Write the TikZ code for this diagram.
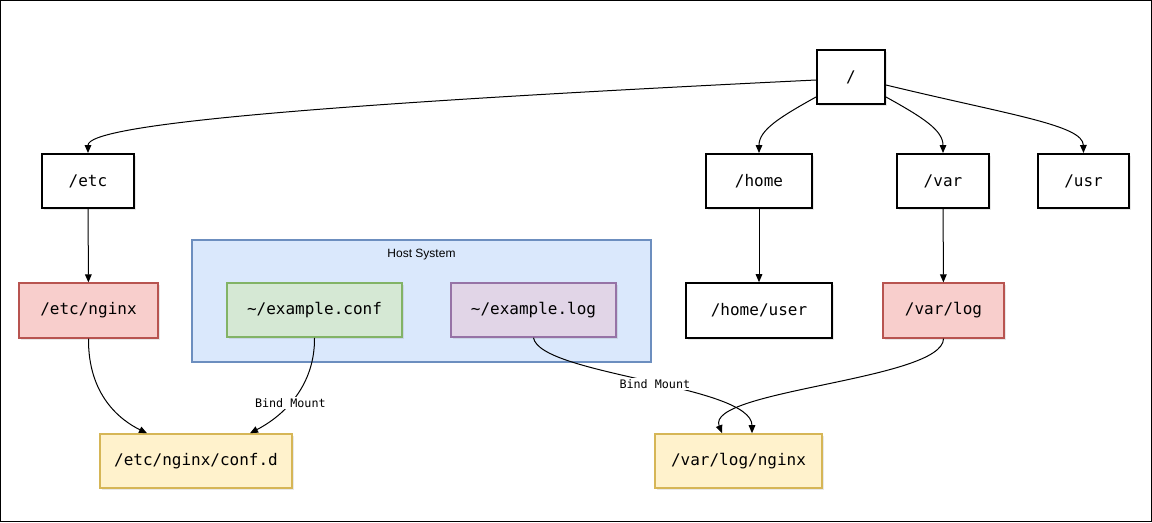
\documentclass[tikz,border=0pt]{standalone}
\usepackage{fontspec}
\setmonofont{DejaVu Sans Mono}
\setsansfont{Liberation Sans}
\usepackage{xcolor}
\usepackage{tikz}
\usetikzlibrary{arrows.meta,positioning,shadows}
\definecolor{redfill}{HTML}{F8CECC}
\definecolor{redline}{HTML}{B85450}
\definecolor{greenfill}{HTML}{D5E8D4}
\definecolor{greenline}{HTML}{82B366}
\definecolor{purplefill}{HTML}{E1D5E7}
\definecolor{purpleline}{HTML}{9673A6}
\definecolor{yellowfill}{HTML}{FFF2CC}
\definecolor{yellowline}{HTML}{D6B656}
\definecolor{bluefill}{HTML}{DAE8FC}
\definecolor{blueline}{HTML}{6C8EBF}
\tikzset{
  dirbox/.style={draw=black,fill=white,line width=1.5pt,minimum height=40.5pt,
    font=\ttfamily\fontsize{12}{14}\selectfont,
    drop shadow={shadow xshift=1.5pt,shadow yshift=-1.5pt,opacity=0.18}},
  mountbox/.style={dirbox,draw=redline,fill=redfill,line width=1.2pt},
  confbox/.style={dirbox,draw=greenline,fill=greenfill,line width=1.2pt},
  logbox/.style={dirbox,draw=purpleline,fill=purplefill,line width=1.2pt},
  targetbox/.style={dirbox,draw=yellowline,fill=yellowfill,line width=1.2pt},
  link/.style={line width=0.75pt,-{Triangle[length=6pt,width=5pt]}},
  bindlabel/.style={fill=white,inner sep=1pt,font=\ttfamily\fontsize{8.8}{10}\selectfont}
}
\begin{document}
\begin{tikzpicture}[x=0.75pt,y=-0.75pt]
\useasboundingbox (0,0) rectangle (1152,522);
\draw[line width=0.75pt] (0.5,0.5) rectangle (1151.5,521.5);
%%the host system group
\node[draw=blueline,fill=bluefill,line width=1.2pt,minimum width=344pt,minimum height=91.5pt,
  inner sep=0pt] (host) at (421.5,301) {};
\node[font=\sffamily\fontsize{9}{11}\selectfont] (hostlabel) at (421.5,255) {Host System};
%%the tree
\node[dirbox,minimum width=51pt] (root) at (851,77) {/};
\node[dirbox,minimum width=69pt] (etc) at (88,181) {/etc};
\node[dirbox,minimum width=79.5pt] (home) at (759,181) {/home};
\node[dirbox,minimum width=69pt] (var) at (943,181) {/var};
\node[dirbox,minimum width=68pt] (usr) at (1083.5,181) {/usr};
\node[mountbox,minimum width=104pt,minimum height=41pt] (etcnginx) at (88.5,310.5) {/etc/nginx};
\node[confbox,minimum width=131pt] (exconf) at (314.5,310) {\textasciitilde/example.conf};
\node[logbox,minimum width=124pt] (exlog) at (533.5,310) {\textasciitilde/example.log};
\node[dirbox,minimum width=109.5pt,minimum height=41pt] (homeuser) at (759,310.5) {/home/user};
\node[mountbox,minimum width=91pt,minimum height=41pt] (varlog) at (943.5,310.5) {/var/log};
\node[targetbox,minimum width=144pt] (confd) at (196,461) {/etc/nginx/conf.d};
\node[targetbox,minimum width=125pt] (varlognginx) at (738.5,461) {/var/log/nginx};
%%edges from the root
\draw[link] (root.west |- 0,80) .. controls (300,105) and (88,125) .. (etc.north);
\draw[link] (root.west |- 0,97) .. controls (780,117) and (759,130) .. (home.north);
\draw[link] (root.east |- 0,97) .. controls (922,117) and (943,130) .. (var.north);
\draw[link] (root.east |- 0,85) .. controls (1010,115) and (1083,125) .. (usr.north);
\draw[link] (etc) -- (etcnginx);
\draw[link] (home) -- (homeuser);
\draw[link] (var) -- (varlog);
%%the mounts
\draw[link] (etcnginx.south) .. controls (88,395) and (120,420) .. (confd.north -| 147,0);
\draw[link] (exconf.south) .. controls (315,385) and (285,415) .. (confd.north -| 250,0)
  node[bindlabel,pos=0.57] {Bind Mount};
\draw[link] (exlog.south) .. controls (540,375) and (752,385) .. (varlognginx.north -| 752,0)
  node[bindlabel,pos=0.53] {Bind Mount};
\draw[link] (varlog.south) .. controls (943,380) and (705,390) .. (varlognginx.north -| 722,0);
\end{tikzpicture}
\end{document}
